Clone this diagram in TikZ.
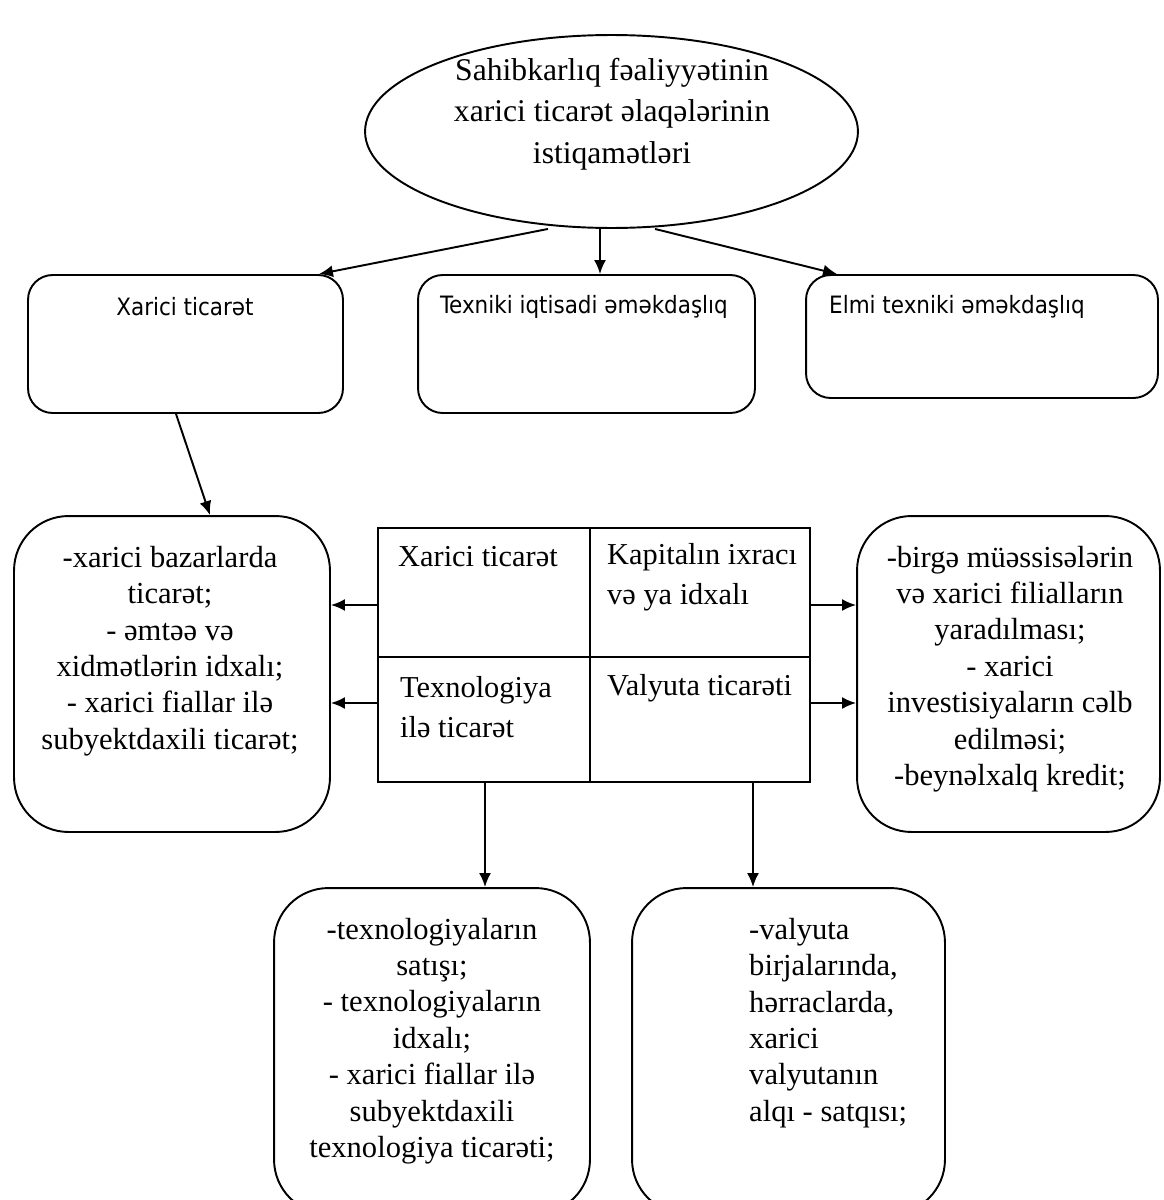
\documentclass[tikz,border=0pt]{standalone}
\usepackage{fontspec}
\setmainfont{Liberation Serif}
\newfontfamily\boxfont{DejaVu Sans Condensed}
\usetikzlibrary{arrows.meta,shapes.geometric}

\tikzset{
  box/.style={draw, line width=1.1pt, rounded corners=14pt, inner sep=0pt},
  listbox/.style={draw, line width=1.1pt, rounded corners=31pt, inner sep=0pt},
  cell/.style={draw, line width=1.1pt, inner sep=0pt},
  boxtext/.style={font=\boxfont\fontsize{13.6}{16}\selectfont},
  listtext/.style={font=\fontsize{17.4}{20.7}\selectfont, align=center},
  celltext/.style={font=\fontsize{17.3}{23}\selectfont, align=left, anchor=west},
  link/.style={-{Latex[length=2.8mm,width=2.4mm]}, line width=1.1pt},
}

\begin{document}
\begin{tikzpicture}[x=0.02cm, y=-0.02cm]
    \useasboundingbox (0,0) rectangle (1163,1200);

    \node[ellipse, draw, line width=1.1pt, minimum width=9.86cm, minimum height=3.86cm] at (611.5,131.5) (top) {};
    \node[font=\fontsize{18}{23.5}\selectfont, align=center] at (612,114) (toptext) {Sahibkarlıq fəaliyyətinin\\xarici ticarət əlaqələrinin\\istiqamətləri};

    \node[box, minimum width=6.3cm, minimum height=2.76cm] at (185.5,344) (b1) {};
    \node[box, minimum width=6.74cm, minimum height=2.76cm] at (586.5,344) (b2) {};
    \node[box, minimum width=7.04cm, minimum height=2.46cm] at (982,336.5) (b3) {};
    \node[boxtext] at (185,307) (t1) {Xarici ticarət};
    \node[boxtext] at (584,307) (t2) {Texniki iqtisadi əməkdaşlıq};
    \node[boxtext] at (957,307) (t3) {Elmi texniki əməkdaşlıq};

    \draw[link] ([xshift=-1.27cm]top.south) -- ([xshift=-0.5cm]b1.north east);
    \draw[link] ([xshift=-0.23cm]top.south) -- ([xshift=0.27cm]b2.north);
    \draw[link] ([xshift=0.87cm]top.south) -- ([xshift=0.64cm]b3.north west);

    \node[cell, minimum width=4.24cm, minimum height=2.58cm] at (484,592.5) (c1) {};
    \node[cell, minimum width=4.4cm, minimum height=2.58cm] at (700,592.5) (c2) {};
    \node[cell, minimum width=4.24cm, minimum height=2.5cm] at (484,719.5) (c3) {};
    \node[cell, minimum width=4.4cm, minimum height=2.5cm] at (700,719.5) (c4) {};
    \node[celltext] at (392,557) (c1text) {Xarici ticarət};
    \node[celltext] at (601,577) (c2text) {Kapitalın ixracı\\və ya idxalı};
    \node[celltext] at (394,707) (c3text) {Texnologiya\\ilə ticarət};
    \node[celltext] at (601,688) (c4text) {Valyuta ticarəti};

    \node[listbox, minimum width=6.32cm, minimum height=6.32cm] at (172,674) (left) {};
    \node[listtext] at (170,651) (lefttext) {-xarici bazarlarda\\ticarət;\\- əmtəə və\\xidmətlərin idxalı;\\- xarici fiallar ilə\\subyektdaxili ticarət;};
    \node[listbox, minimum width=6.06cm, minimum height=6.32cm] at (1008.5,674) (right) {};
    \node[listtext] at (1010,669) (righttext) {-birgə müəssisələrin\\və xarici filialların\\yaradılması;\\- xarici\\investisiyaların cəlb\\edilməsi;\\-beynəlxalq kredit;};

    \node[listbox, minimum width=6.32cm, minimum height=6.52cm] at (432,1051) (bl) {};
    \node[listtext] at (432,1041) (bltext) {-texnologiyaların\\satışı;\\- texnologiyaların\\idxalı;\\- xarici fiallar ilə\\subyektdaxili\\texnologiya ticarəti;};
    \node[listbox, minimum width=6.26cm, minimum height=6.52cm] at (788.5,1051) (br) {};
    \node[listtext, align=left, anchor=west] at (743,1023) (brtext) {-valyuta\\birjalarında,\\hərraclarda,\\xarici\\valyutanın\\alqı - satqısı;};

    \draw[link] ([xshift=-0.19cm]b1.south) -- ([xshift=0.76cm]left.north);
    \draw[link] ([yshift=-0.25cm]c1.west) -- ([yshift=-0.25cm]c1.west -| left.east);
    \draw[link] ([yshift=0.33cm]c3.west) -- ([yshift=0.33cm]c3.west -| left.east);
    \draw[link] ([yshift=-0.25cm]c2.east) -- ([yshift=-0.25cm]c2.east -| right.west);
    \draw[link] ([yshift=0.33cm]c4.east) -- ([yshift=0.33cm]c4.east -| right.west);
    \draw[link] ([xshift=0.02cm]c3.south) -- ([xshift=0.02cm]c3.south |- bl.north);
    \draw[link] ([xshift=1.06cm]c4.south) -- ([xshift=1.06cm]c4.south |- br.north);
\end{tikzpicture}
\end{document}
